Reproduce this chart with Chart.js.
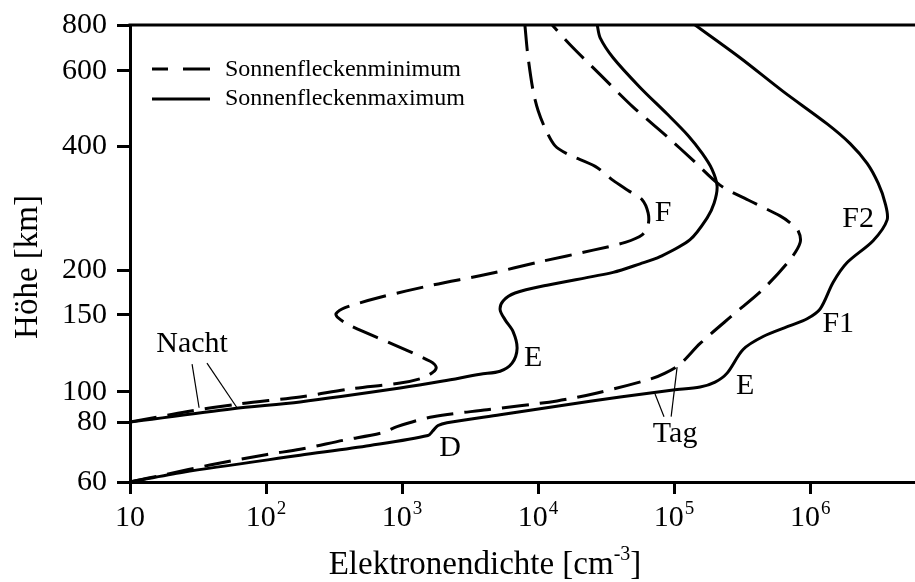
<!DOCTYPE html>
<html>
<head>
<meta charset="utf-8">
<script src="https://cdn.jsdelivr.net/npm/chart.js@4.4.1/dist/chart.umd.min.js"></script>
<style>
  html, body { margin: 0; padding: 0; background: #fff; }
  #wrap { width: 915px; height: 582px; }
</style>
</head>
<body>
<div id="wrap"><canvas id="c" width="915" height="582"></canvas></div>
<script>
// ---- axis ticks ----
const densityTicks = [1e1, 1e2, 1e3, 1e4, 1e5, 1e6];
const densityTickExponents = ['', '2', '3', '4', '5', '6'];
const heightTicks = [60, 80, 100, 150, 200, 400, 600, 800];

// ---- electron density profiles: density in cm^-3, height in km ----
const nightMinDensity = [10, 26, 64, 178, 415, 970, 1400, 1690, 1780, 1610, 860, 415, 338, 327, 381, 690, 1690, 4200, 10400, 25400, 43700, 58200, 64400, 64400, 58200, 45900, 35600, 26300, 16600, 13300, 11300, 10000, 9200, 8400, 8000];
const nightMinHeight  = [80, 86.4, 91.6, 96.4, 101.6, 104.8, 107.5, 111, 114, 117.5, 128.4, 141.7, 147.7, 151, 157, 168, 182, 195, 210, 224, 234, 244, 258, 276, 297, 313, 331, 358, 383, 402, 440, 485, 538, 663, 800];

const nightMaxDensity = [10, 57, 178, 967, 2000, 3750, 5260, 6440, 7010, 6550, 5710, 5260, 5530, 6770, 11650, 35600, 56200, 78900, 131000, 175000, 197000, 207000, 190000, 161000, 127000, 88900, 56200, 35600, 28600, 27200];
const nightMaxHeight  = [80, 88.3, 92.9, 102.1, 105.9, 109.8, 111.5, 116.3, 125.7, 137.3, 146.2, 154.9, 164.1, 172.7, 181.7, 197.5, 207.5, 216, 237.6, 268.4, 291.6, 320.5, 352.2, 384.9, 424, 476, 548.6, 651, 737.7, 800];

const dayMinDensity = [10, 18.7, 38.7, 102, 178, 368, 725, 918, 1690, 4220, 13800, 27200, 66700, 85900, 110600, 155300, 271600, 451200, 712600, 843800, 816000, 712600, 601000, 362300, 217600, 138000, 88900, 50000, 28600, 17200, 12700];
const dayMinHeight  = [60, 62.3, 65.1, 68.5, 70.2, 73.3, 76.1, 78.3, 83.3, 87.7, 93.6, 99.3, 107, 110.4, 115.7, 129, 150, 177.1, 212.6, 233.6, 249.7, 261, 271.4, 294.9, 322.3, 370.2, 421.7, 493.9, 587.5, 706.2, 800];

const dayMaxDensity = [10, 24.5, 178, 582, 1550, 1690, 1840, 2140, 5260, 14500, 40100, 98400, 155300, 200100, 245200, 321500, 451200, 712600, 950500, 1186000, 1477000, 1871000, 2904000, 3681000, 3558000, 3162000, 2624000, 1968000, 1334000, 632000, 305500, 142600];
const dayMaxHeight  = [60, 62.9, 68.2, 71.5, 75, 76.8, 78.7, 79.8, 84.5, 90.3, 96.4, 101, 102.6, 105.3, 110.4, 125, 133.8, 141.7, 146.9, 155.9, 185.2, 209, 236.2, 265.4, 291.6, 325.8, 364.1, 406.4, 451.5, 537.2, 651, 800];

// ---- layer labels (anchored in data units) ----
const layerLabels       = ['Nacht', 'Tag', 'D', 'E', 'E', 'F', 'F1', 'F2'];
const layerLabelDensity = [28.6, 101700, 2250, 9190, 333000, 83000, 1610000, 2250000];
const layerLabelHeight  = [128.4, 75.7, 70.5, 119.4, 103.2, 276, 143, 267];

// leader lines from the "Nacht" / "Tag" labels to their curves: [density1, height1, density2, height2]
const leaderLines = [
  [28.6, 115.7, 32.2, 89],
  [36.8, 116.3, 61.2, 89],
  [72400, 98.5, 84300, 83.3],
  [105200, 113.9, 95100, 83.3]
];

const legendLabels = ['Sonnenfleckenminimum', 'Sonnenfleckenmaximum'];

const FONT = '"Liberation Serif", "Times New Roman", serif';

// Height axis with hand-set spacing between its ticks; values between ticks
// are placed logarithmically inside each interval.
const HEIGHT_STOPS = [0, 0.131, 0.197, 0.366, 0.463, 0.734, 0.900, 1];
class StretchedHeightScale extends Chart.LinearScale {
  static id = 'stretchedHeight';
  static defaults = Chart.LinearScale.defaults;
  buildTicks() {
    this.min = heightTicks[0];
    this.max = heightTicks[heightTicks.length - 1];
    return heightTicks.map(v => ({ value: v }));
  }
  _fraction(v) {
    const L = Math.log10(v);
    const n = heightTicks.length;
    for (let i = 0; i < n - 1; i++) {
      const a = Math.log10(heightTicks[i]), b = Math.log10(heightTicks[i + 1]);
      if (L <= b || i === n - 2) {
        return HEIGHT_STOPS[i] + (L - a) / (b - a) * (HEIGHT_STOPS[i + 1] - HEIGHT_STOPS[i]);
      }
    }
    return 0;
  }
  getPixelForValue(v) {
    return this.getPixelForDecimal(this._fraction(v));
  }
  getValueForPixel(p) {
    const d = this.getDecimalForPixel(p);
    for (let i = 0; i < HEIGHT_STOPS.length - 1; i++) {
      if (d <= HEIGHT_STOPS[i + 1] || i === HEIGHT_STOPS.length - 2) {
        const a = Math.log10(heightTicks[i]), b = Math.log10(heightTicks[i + 1]);
        const t = (d - HEIGHT_STOPS[i]) / (HEIGHT_STOPS[i + 1] - HEIGHT_STOPS[i]);
        return Math.pow(10, a + t * (b - a));
      }
    }
    return heightTicks[0];
  }
}
Chart.register(StretchedHeightScale);

function toPoints(xs, ys) { return xs.map((x, i) => ({ x: x, y: ys[i] })); }

const DASH = [27, 11];
function profile(xs, ys, dashed) {
  return {
    data: toPoints(xs, ys),
    borderColor: '#000',
    borderWidth: 3,
    borderDash: dashed ? DASH : [],
    borderCapStyle: 'butt',
    pointRadius: 0,
    tension: 0.3,
    fill: false
  };
}

const overlay = {
  id: 'overlay',
  afterDraw(chart) {
    const { ctx, chartArea: a, scales } = chart;
    const xs = scales.x, ys = scales.y;
    ctx.save();
    ctx.fillStyle = '#000';
    ctx.strokeStyle = '#000';

    // top frame line
    ctx.lineWidth = 3;
    ctx.setLineDash([]);
    ctx.beginPath();
    ctx.moveTo(a.left - 1.5, a.top);
    ctx.lineTo(a.right, a.top);
    ctx.stroke();

    // density tick labels: 10, 10², 10³ ...
    densityTicks.forEach((v, i) => {
      const px = xs.getPixelForValue(v);
      const exp = densityTickExponents[i];
      ctx.font = '30px ' + FONT;
      const wb = ctx.measureText('10').width;
      ctx.font = '19px ' + FONT;
      const we = exp ? ctx.measureText(exp).width + 1 : 0;
      const left = px - (wb + we) / 2;
      const base = a.bottom + 44;
      ctx.textAlign = 'left';
      ctx.textBaseline = 'alphabetic';
      ctx.font = '30px ' + FONT;
      ctx.fillText('10', left, base);
      if (exp) {
        ctx.font = '19px ' + FONT;
        ctx.fillText(exp, left + wb + 1, base - 12);
      }
    });

    // axis titles
    ctx.textAlign = 'left';
    ctx.textBaseline = 'alphabetic';
    ctx.font = '33px ' + FONT;
    const t1 = 'Elektronendichte [cm';
    const w1 = ctx.measureText(t1).width;
    ctx.font = '20px ' + FONT;
    const w2 = ctx.measureText('-3').width;
    ctx.font = '33px ' + FONT;
    const w3 = ctx.measureText(']').width;
    let tx = 485 - (w1 + w2 + w3) / 2;
    const ty = 574;
    ctx.fillText(t1, tx, ty);
    ctx.font = '20px ' + FONT;
    ctx.fillText('-3', tx + w1, ty - 14);
    ctx.font = '33px ' + FONT;
    ctx.fillText(']', tx + w1 + w2, ty);

    ctx.save();
    ctx.translate(28, 267);
    ctx.rotate(-Math.PI / 2);
    ctx.textAlign = 'center';
    ctx.textBaseline = 'middle';
    ctx.font = '33px ' + FONT;
    ctx.fillText('Höhe [km]', 0, 0);
    ctx.restore();

    // legend
    ctx.lineWidth = 3;
    ctx.setLineDash([16, 15, 27, 0]);
    ctx.beginPath(); ctx.moveTo(152, 69); ctx.lineTo(210, 69); ctx.stroke();
    ctx.setLineDash([]);
    ctx.beginPath(); ctx.moveTo(152, 99); ctx.lineTo(210, 99); ctx.stroke();
    ctx.font = '24px ' + FONT;
    ctx.textAlign = 'left';
    ctx.textBaseline = 'middle';
    ctx.fillText(legendLabels[0], 225, 70);
    ctx.fillText(legendLabels[1], 225, 99);

    // layer labels
    ctx.font = '30px ' + FONT;
    ctx.textAlign = 'center';
    ctx.textBaseline = 'middle';
    layerLabels.forEach((t, i) => {
      ctx.fillText(t, xs.getPixelForValue(layerLabelDensity[i]), ys.getPixelForValue(layerLabelHeight[i]));
    });

    // leader lines
    ctx.lineWidth = 1.2;
    leaderLines.forEach(l => {
      ctx.beginPath();
      ctx.moveTo(xs.getPixelForValue(l[0]), ys.getPixelForValue(l[1]));
      ctx.lineTo(xs.getPixelForValue(l[2]), ys.getPixelForValue(l[3]));
      ctx.stroke();
    });
    ctx.restore();
  }
};

new Chart(document.getElementById('c'), {
  type: 'line',
  data: {
    datasets: [
      profile(nightMinDensity, nightMinHeight, true),
      profile(nightMaxDensity, nightMaxHeight, false),
      profile(dayMinDensity, dayMinHeight, true),
      profile(dayMaxDensity, dayMaxHeight, false)
    ]
  },
  options: {
    responsive: false,
    animation: false,
    devicePixelRatio: 1,
    layout: { padding: { top: 20, right: 0, left: 0, bottom: 0 } },
    plugins: { legend: { display: false }, tooltip: { enabled: false } },
    scales: {
      x: {
        type: 'logarithmic',
        min: 10,
        max: 5.9e6,
        afterBuildTicks: s => { s.ticks = densityTicks.map(v => ({ value: v })); },
        afterFit: s => { s.height = 100; },
        ticks: { display: false },
        grid: { display: true, drawOnChartArea: false, drawTicks: true, tickLength: 12, color: '#000', lineWidth: 3 },
        border: { display: true, color: '#000', width: 3 }
      },
      y: {
        type: 'stretchedHeight',
        min: 60,
        max: 800,
        afterFit: s => { s.width = 130; },
        ticks: {
          autoSkip: false,
          color: '#000',
          padding: 10,
          font: { family: FONT, size: 30, lineHeight: 1 },
          callback: v => String(v)
        },
        grid: { display: true, drawOnChartArea: false, drawTicks: true, tickLength: 13, color: '#000', lineWidth: 3 },
        border: { display: true, color: '#000', width: 3 }
      }
    }
  },
  plugins: [overlay]
});
</script>
</body>
</html>
